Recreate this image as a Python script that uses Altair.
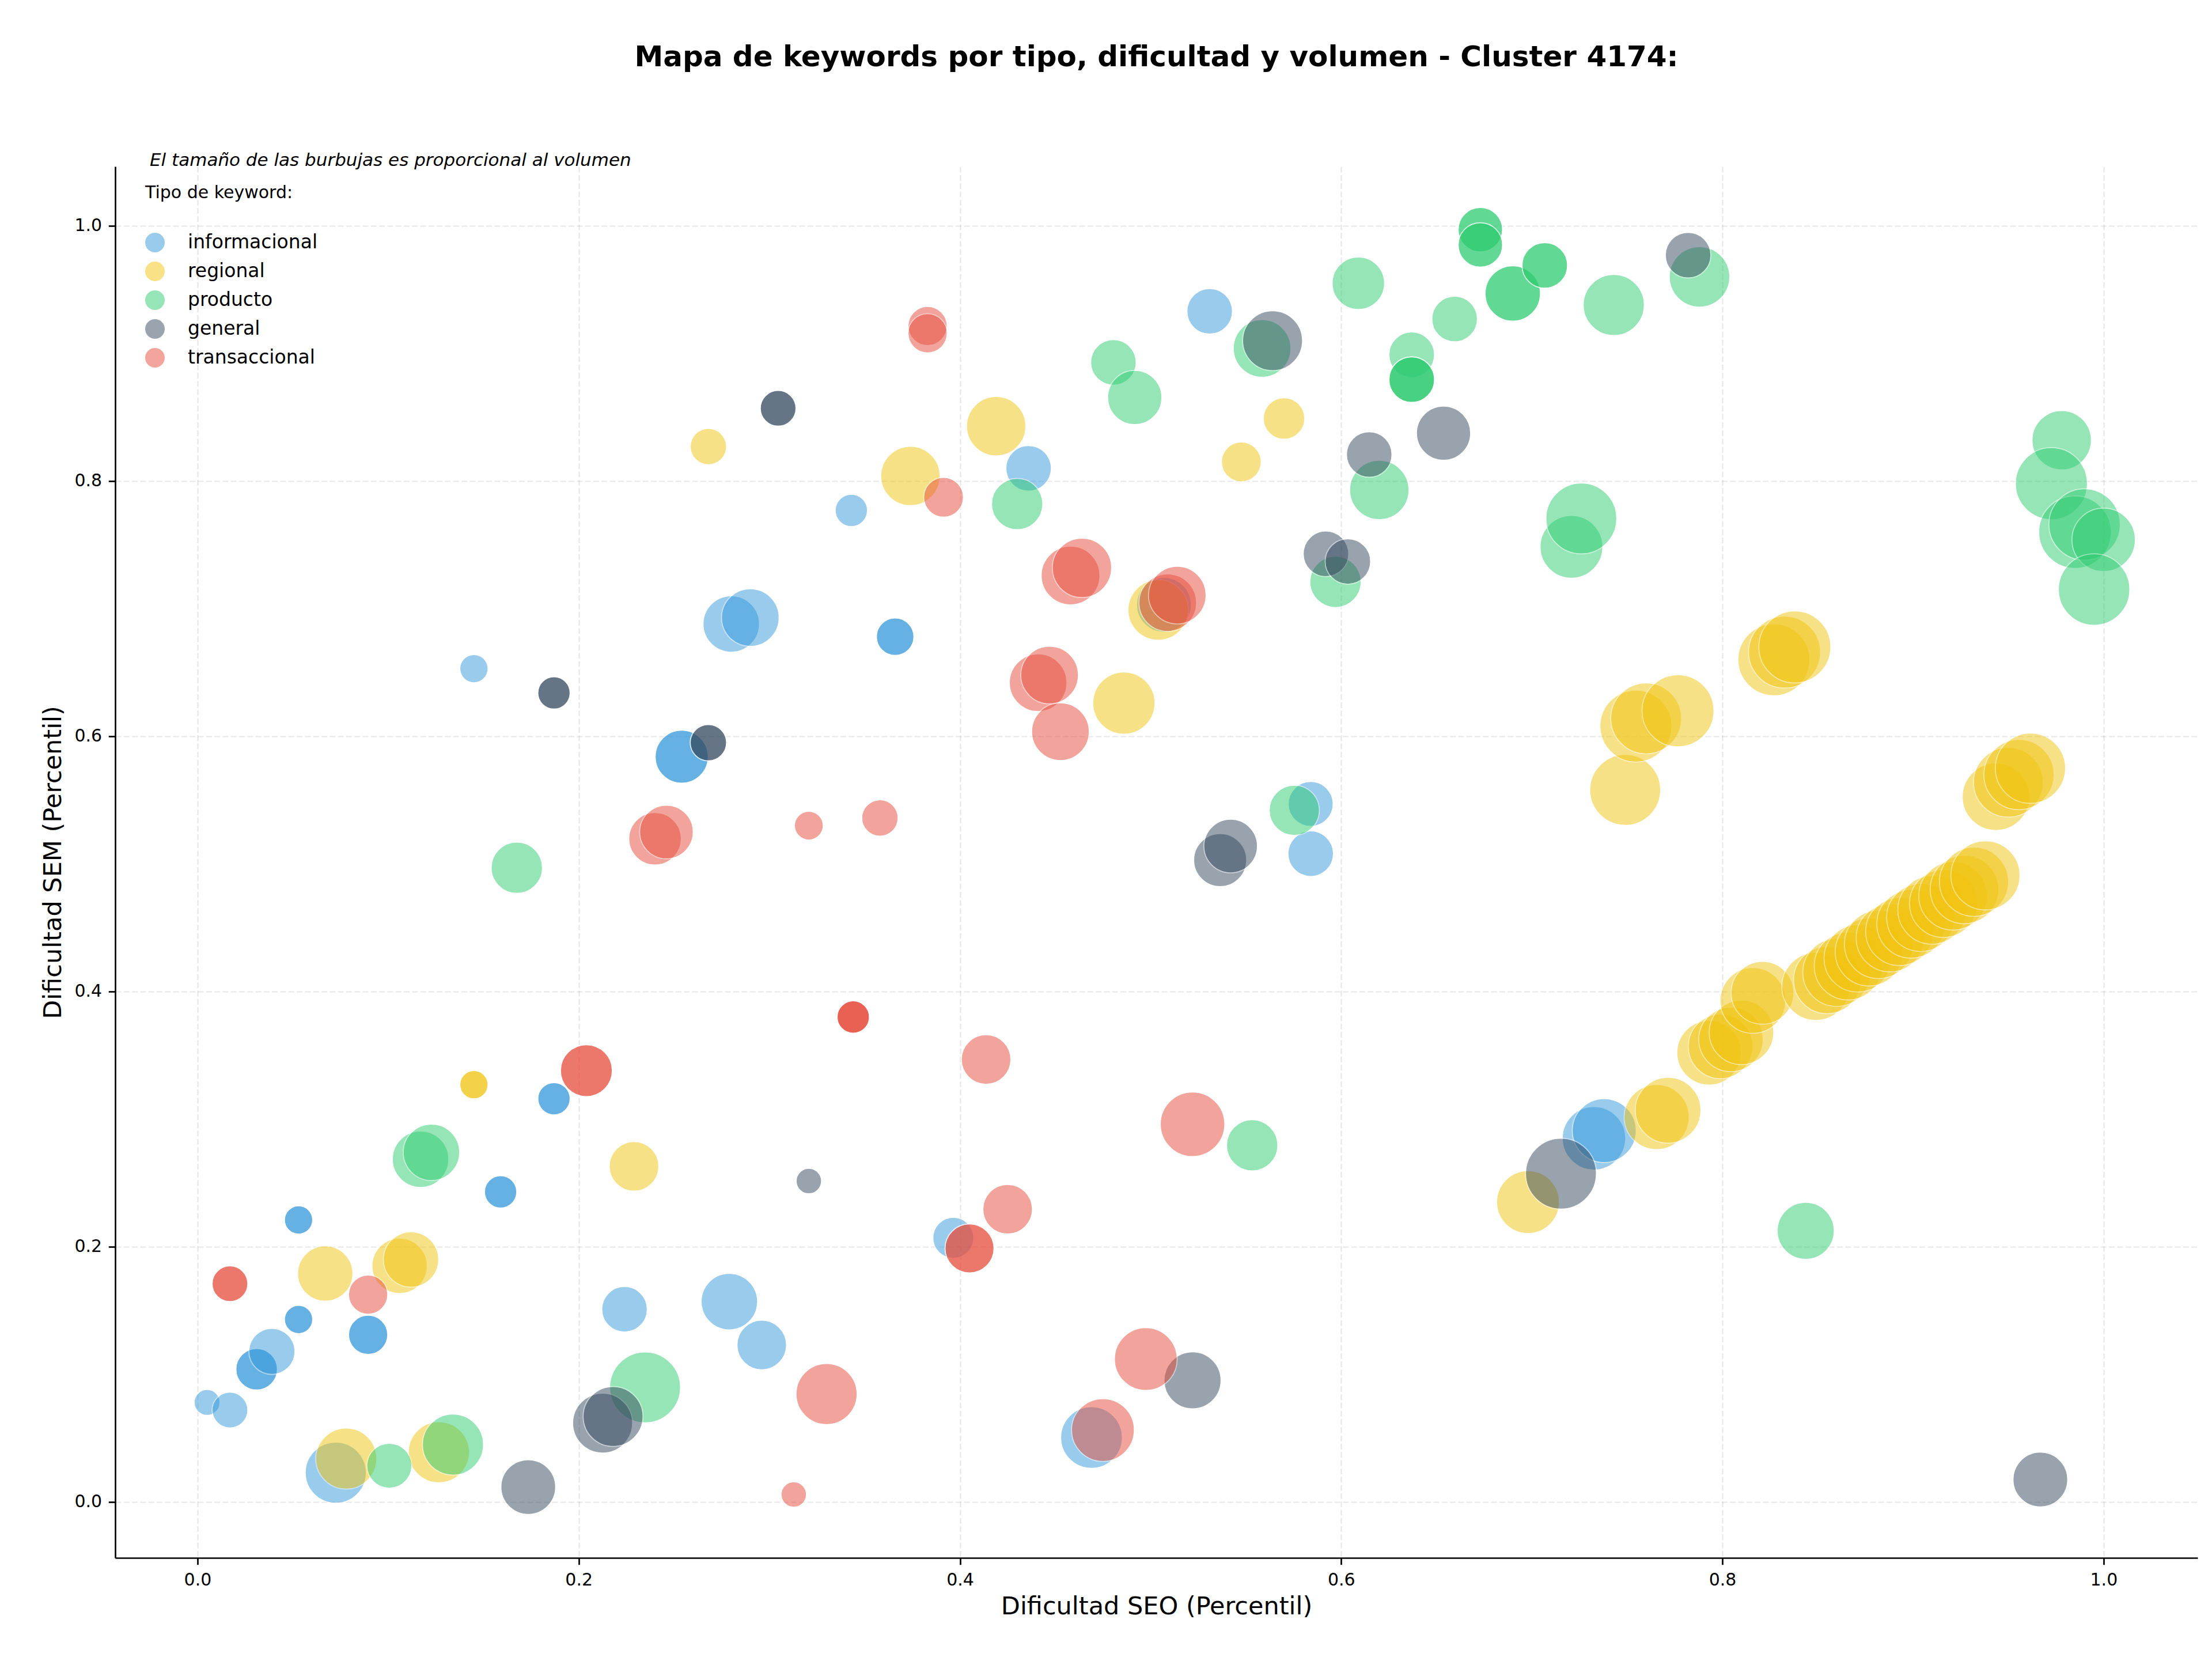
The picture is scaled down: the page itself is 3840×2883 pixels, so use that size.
import altair as alt
import pandas as pd

TIPOS = ["informacional", "regional", "producto", "general", "transaccional"]
COLORES = ["#3498db", "#f1c40f", "#2ecc71", "#34495e", "#e74c3c"]

TITULO = "Mapa de keywords por tipo, dificultad y volumen - Cluster 4174:"
SUBTITULO = "El tamaño de las burbujas es proporcional al volumen"
TICKS = [0.0, 0.2, 0.4, 0.6, 0.8, 1.0]

# informacional
info_seo = [0.005, 0.017, 0.031, 0.031, 0.039, 0.053, 0.053, 0.053, 0.053, 0.0895, 0.0895, 0.0725,
            0.159, 0.159, 0.187, 0.187, 0.145, 0.224, 0.279, 0.296, 0.254, 0.254, 0.280, 0.290,
            0.343, 0.366, 0.366, 0.436, 0.531, 0.584, 0.584, 0.3965, 0.469, 0.507, 0.7326, 0.738]
info_sem = [0.078, 0.072, 0.104, 0.104, 0.118, 0.143, 0.143, 0.221, 0.221, 0.131, 0.131, 0.023,
            0.243, 0.243, 0.316, 0.316, 0.653, 0.151, 0.157, 0.123, 0.584, 0.584, 0.688, 0.693,
            0.777, 0.678, 0.678, 0.810, 0.933, 0.547, 0.508, 0.207, 0.0505, 0.703, 0.285, 0.291]
info_vol = [202, 384, 518, 518, 640, 240, 240, 240, 240, 462, 462, 1124,
            314, 314, 314, 314, 240, 624, 960, 740, 846, 846, 960, 1000,
            314, 422, 422, 624, 624, 608, 624, 504, 1145, 902, 1210, 1232]

# regional
reg_seo = [0.067, 0.106, 0.112, 0.078, 0.1266, 0.145, 0.145, 0.229, 0.268, 0.374, 0.419, 0.5476,
           0.570, 0.486, 0.504, 0.698, 0.7655, 0.7715, 0.749, 0.7546, 0.760, 0.7767, 0.827, 0.8326,
           0.838, 0.793, 0.799, 0.8045, 0.810, 0.816, 0.821,
           0.849, 0.855, 0.860, 0.866, 0.871, 0.877, 0.882, 0.888, 0.893, 0.899, 0.904, 0.910,
           0.916, 0.921, 0.927, 0.932, 0.938, 0.9435, 0.950, 0.9556, 0.9616]
reg_sem = [0.179, 0.185, 0.190, 0.034, 0.039, 0.327, 0.327, 0.263, 0.827, 0.804, 0.843, 0.815,
           0.849, 0.626, 0.699, 0.235, 0.3016, 0.307, 0.558, 0.608, 0.614, 0.620, 0.660, 0.666,
           0.670, 0.352, 0.357, 0.3625, 0.368, 0.393, 0.399,
           0.404, 0.409, 0.415, 0.420, 0.426, 0.431, 0.437, 0.442, 0.447, 0.453, 0.458, 0.464,
           0.469, 0.475, 0.480, 0.486, 0.491, 0.5526, 0.564, 0.570, 0.575]
reg_vol = [922, 922, 922, 1124, 1124, 240, 240, 740, 397, 1061, 1061, 476,
           518, 1166, 1102, 1188, 1277, 1300, 1513, 1562, 1513, 1562, 1562, 1562,
           1562, 1254, 1254, 1254, 1254, 1300, 1188,
           1392, 1369, 1392, 1392, 1369, 1392, 1416, 1392, 1392, 1416, 1392, 1416,
           1392, 1416, 1416, 1440, 1440, 1369, 1464, 1488, 1488]

# producto
prod_seo = [0.1006, 0.134, 0.2348, 0.117, 0.1227, 0.1675, 0.430, 0.4805, 0.4917, 0.5585, 0.5533,
            0.5754, 0.597, 0.620, 0.609, 0.637, 0.637, 0.637, 0.637, 0.6595, 0.673, 0.673, 0.673,
            0.673, 0.690, 0.690, 0.7068, 0.7068, 0.743, 0.788, 0.7208, 0.726, 0.978, 0.9726,
            0.985, 0.990, 1.000, 0.995, 0.8437]
prod_sem = [0.0284, 0.045, 0.0898, 0.2686, 0.274, 0.497, 0.782, 0.893, 0.8655, 0.904, 0.2795,
            0.542, 0.721, 0.793, 0.955, 0.899, 0.8795, 0.8795, 0.8795, 0.927, 0.997, 0.997, 0.985,
            0.985, 0.947, 0.947, 0.969, 0.969, 0.938, 0.960, 0.7485, 0.7707, 0.832, 0.798,
            0.760, 0.766, 0.754, 0.715, 0.2125]
prod_vol = [608, 1124, 1513, 960, 960, 792, 792, 624, 884, 1000, 792,
            757, 792, 1061, 828, 624, 624, 624, 624, 624, 593, 593, 593,
            593, 922, 922, 624, 624, 1124, 1102, 1188, 1513, 1061, 1562,
            1588, 1538, 1210, 1538, 980]

# general
gen_seo = [0.1735, 0.2125, 0.218, 0.187, 0.187, 0.268, 0.268, 0.3046, 0.3046, 0.3207, 0.522,
           0.564, 0.5365, 0.542, 0.592, 0.6035, 0.6147, 0.6537, 0.782, 0.7153, 0.9668]
gen_sem = [0.0117, 0.0618, 0.067, 0.634, 0.634, 0.595, 0.595, 0.857, 0.857, 0.2515, 0.0953,
           0.910, 0.503, 0.514, 0.743, 0.737, 0.8208, 0.8375, 0.977, 0.2573, 0.0176]
gen_vol = [902, 1082, 1082, 314, 314, 397, 397, 384, 384, 194, 980,
           1082, 846, 865, 624, 624, 624, 884, 624, 1513, 902]

# transaccional
tra_seo = [0.017, 0.017, 0.0895, 0.204, 0.204, 0.240, 0.246, 0.3207, 0.358, 0.344, 0.344, 0.344,
           0.3128, 0.330, 0.383, 0.383, 0.3914, 0.4137, 0.405, 0.405, 0.425, 0.441, 0.447, 0.4527,
           0.458, 0.464, 0.509, 0.514, 0.522, 0.4975, 0.475]
tra_sem = [0.171, 0.171, 0.1625, 0.338, 0.338, 0.5197, 0.525, 0.530, 0.536, 0.380, 0.380, 0.380,
           0.0059, 0.0846, 0.9215, 0.9158, 0.7873, 0.3467, 0.1987, 0.1987, 0.2294, 0.642, 0.648, 0.6036,
           0.726, 0.732, 0.7047, 0.7106, 0.296, 0.112, 0.0564]
tra_vol = [384, 384, 462, 810, 810, 828, 865, 250, 397, 314, 314, 314,
           194, 1124, 462, 462, 476, 740, 722, 722, 740, 1000, 1000, 1000,
           1040, 1061, 1000, 1000, 1254, 1188, 1188]

series = [
    ("informacional", info_seo, info_sem, info_vol),
    ("regional", reg_seo, reg_sem, reg_vol),
    ("producto", prod_seo, prod_sem, prod_vol),
    ("general", gen_seo, gen_sem, gen_vol),
    ("transaccional", tra_seo, tra_sem, tra_vol),
]
rows = []
for tipo, xs, ys, vs in series:
    for x, y, v in zip(xs, ys, vs):
        rows.append({"tipo": tipo, "seo": x, "sem": y, "volumen": v})
df = pd.DataFrame(rows)

FONT = "DejaVu Sans"

points = alt.Chart(df).mark_circle(
    opacity=0.5, stroke="white", strokeWidth=1.7
).encode(
    x=alt.X("seo:Q",
            scale=alt.Scale(domain=[-0.0432, 1.0493], nice=False, zero=False),
            axis=alt.Axis(values=TICKS, format=".1f", title="Dificultad SEO (Percentil)",
                          titlePadding=10)),
    y=alt.Y("sem:Q",
            scale=alt.Scale(domain=[-0.0438, 1.0465], nice=False, zero=False),
            axis=alt.Axis(values=TICKS, format=".1f", title="Dificultad SEM (Percentil)",
                          titlePadding=14)),
    color=alt.Color("tipo:N",
                    scale=alt.Scale(domain=TIPOS, range=COLORES),
                    sort=TIPOS,
                    legend=alt.Legend(
                        title="Tipo de keyword:", orient="none", legendX=52, legendY=31,
                        direction="vertical", titleFontSize=30, titleFontWeight="normal",
                        titleColor="black", titleFont=FONT, titleLimit=1000, titlePadding=54,
                        labelFontSize=33, labelColor="black", labelFont=FONT, labelLimit=1000,
                        labelOffset=40, symbolType="circle", symbolSize=1156,
                        symbolOpacity=0.5, symbolStrokeWidth=0, rowPadding=16, padding=0)),
    size=alt.Size("volumen:Q", scale=alt.Scale(type="linear", domain=[0, 1600], range=[0, 16000]),
                  legend=None),
)

nota = alt.Chart(pd.DataFrame({"t": [SUBTITULO]})).mark_text(
    align="left", baseline="middle", fontStyle="italic", fontSize=31, font=FONT, color="black"
).encode(x=alt.value(60), y=alt.value(-10), text="t:N")

chart = alt.layer(points, nota).properties(
    width=3615, height=2415,
    title=alt.TitleParams(TITULO, fontSize=50, fontWeight="bold", font=FONT, anchor="middle",
                          frame="group", offset=138, color="black"),
    padding={"left": 200, "top": 289, "right": 25, "bottom": 179},
    autosize=alt.AutoSizeParams(type="none"),
    background="white",
).configure_view(stroke=None).configure_axis(
    domainColor="black", domainWidth=2.7, tickColor="black", tickWidth=2.7, tickSize=11.7,
    labelFontSize=30, labelFont=FONT, labelColor="black", labelPadding=11.7,
    titleFontSize=43, titleFont=FONT, titleFontWeight="normal", titleColor="black",
    gridColor="#b0b0b0", gridOpacity=0.3, gridDash=[10, 4.3], gridWidth=2.2,
)

chart.save("out.html", embed_options={"renderer": "svg", "actions": False})
